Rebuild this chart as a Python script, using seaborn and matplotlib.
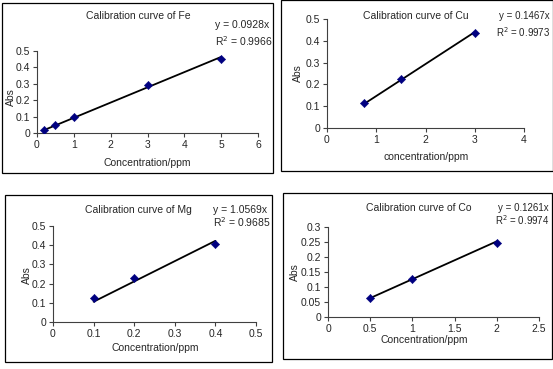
import numpy as np
import pandas as pd
import matplotlib
matplotlib.use("Agg")
import matplotlib.pyplot as plt
from matplotlib.patches import Rectangle
import seaborn as sns

# --- data ---
fe_conc = [0.2, 0.5, 1, 3, 5]
fe_abs = [0.02, 0.05, 0.10, 0.29, 0.45]
fe_slope, fe_r2 = 0.0928, 0.9966

cu_conc = [0.75, 1.5, 3]
cu_abs = [0.113, 0.226, 0.435]
cu_slope, cu_r2 = 0.1467, 0.9973

mg_conc = [0.1, 0.2, 0.4]
mg_abs = [0.125, 0.23, 0.405]
mg_slope, mg_r2 = 1.0569, 0.9685

co_conc = [0.5, 1, 2]
co_abs = [0.065, 0.128, 0.247]
co_slope, co_r2 = 0.1261, 0.9974

sns.set_style("white")
plt.rcParams['font.family'] = ['Liberation Sans', 'DejaVu Sans']

W, H = 553, 369
fig = plt.figure(figsize=(W / 100, H / 100), dpi=100)
fig.patch.set_facecolor("white")


def fx(px):
    return px / W


def fy(py):
    return 1 - py / H


def box(x0, y0, x1, y1):
    fig.patches.append(Rectangle((fx(x0), fy(y1)), fx(x1 - x0), (y1 - y0) / H,
                                 transform=fig.transFigure, fill=False,
                                 edgecolor="black", linewidth=0.9))


def panel(rect, xs, ys, slope, xlim, xticks, ylim, yticks):
    left, right, top, bottom = rect
    ax = fig.add_axes([fx(left), fy(bottom), fx(right - left), (bottom - top) / H])
    df = pd.DataFrame({"conc": xs, "abs": ys})
    df["fit"] = slope * df["conc"]
    sns.lineplot(data=df, x="conc", y="fit", ax=ax, color="black", linewidth=1.3)
    sns.scatterplot(data=df, x="conc", y="abs", ax=ax, marker="D", s=18,
                    color="#000080", edgecolor="#000080", zorder=3)
    ax.set_xlim(xlim)
    ax.set_ylim(ylim)
    ax.set_xticks(xticks)
    ax.set_yticks(yticks)
    ax.set_xticklabels([f"{t:g}" for t in xticks])
    ax.set_yticklabels([f"{t:g}" for t in yticks])
    ax.set_xlabel("")
    ax.set_ylabel("")
    ax.patch.set_alpha(0)
    for s in ["top", "right"]:
        ax.spines[s].set_visible(False)
    for s in ["left", "bottom"]:
        ax.spines[s].set_color("#404040")
        ax.spines[s].set_linewidth(0.8)
    ax.tick_params(axis="both", direction="out", length=3, width=0.8,
                   color="#404040", labelsize=7.5, pad=2, left=True, bottom=True)
    return ax


fs = 7.5

# Fe
box(2, 3, 273, 173)
panel((37, 258, 51, 133), fe_conc, fe_abs, fe_slope,
      (0, 6), range(0, 7), (0, 0.5), np.arange(0, 0.51, 0.1))
fig.text(fx(138), fy(16), "Calibration curve of Fe", ha="center", va="center", fontsize=fs)
fig.text(fx(215), fy(25), f"y = {fe_slope}x", ha="left", va="center", fontsize=fs)
fig.text(fx(215), fy(41), f"R$^2$ = {fe_r2}", ha="left", va="center", fontsize=fs)
fig.text(fx(147), fy(163), "Concentration/ppm", ha="center", va="center", fontsize=fs)
fig.text(fx(11), fy(97), "Abs", ha="center", va="center", rotation=90, fontsize=fs)

# Cu
box(281, 0, 553, 171)
panel((327, 524, 19, 128), cu_conc, cu_abs, cu_slope,
      (0, 4), range(0, 5), (0, 0.5), np.arange(0, 0.51, 0.1))
fig.text(fx(416), fy(16), "Calibration curve of Cu", ha="center", va="center", fontsize=fs)
fig.text(fx(550), fy(16), f"y = {cu_slope}x", ha="right", va="center", fontsize=7)
fig.text(fx(550), fy(32), f"R$^2$ = {cu_r2}", ha="right", va="center", fontsize=7)
fig.text(fx(426), fy(157), "concentration/ppm", ha="center", va="center", fontsize=fs)
fig.text(fx(298), fy(73), "Abs", ha="center", va="center", rotation=90, fontsize=fs)

# Mg
box(5, 195, 272, 362)
panel((53, 256, 226, 322), mg_conc, mg_abs, mg_slope,
      (0, 0.5), np.arange(0, 0.51, 0.1), (0, 0.5), np.arange(0, 0.51, 0.1))
fig.text(fx(138), fy(210), "Calibration curve of Mg", ha="center", va="center", fontsize=fs)
fig.text(fx(213), fy(210), f"y = {mg_slope}x", ha="left", va="center", fontsize=fs)
fig.text(fx(213), fy(222), f"R$^2$ = {mg_r2}", ha="left", va="center", fontsize=fs)
fig.text(fx(155), fy(348), "Concentration/ppm", ha="center", va="center", fontsize=fs)
fig.text(fx(27), fy(275), "Abs", ha="center", va="center", rotation=90, fontsize=fs)

# Co
box(283, 193, 552, 359)
panel((328, 539, 227, 317), co_conc, co_abs, co_slope,
      (0, 2.5), np.arange(0, 2.51, 0.5), (0, 0.3), np.arange(0, 0.301, 0.05))
fig.text(fx(419), fy(208), "Calibration curve of Co", ha="center", va="center", fontsize=fs)
fig.text(fx(549), fy(208), f"y = {co_slope}x", ha="right", va="center", fontsize=7)
fig.text(fx(549), fy(220), f"R$^2$ = {co_r2}", ha="right", va="center", fontsize=7)
fig.text(fx(424), fy(340), "Concentration/ppm", ha="center", va="center", fontsize=fs)
fig.text(fx(295), fy(272), "Abs", ha="center", va="center", rotation=90, fontsize=fs)

fig.savefig("out.png", dpi=100, facecolor="white")
